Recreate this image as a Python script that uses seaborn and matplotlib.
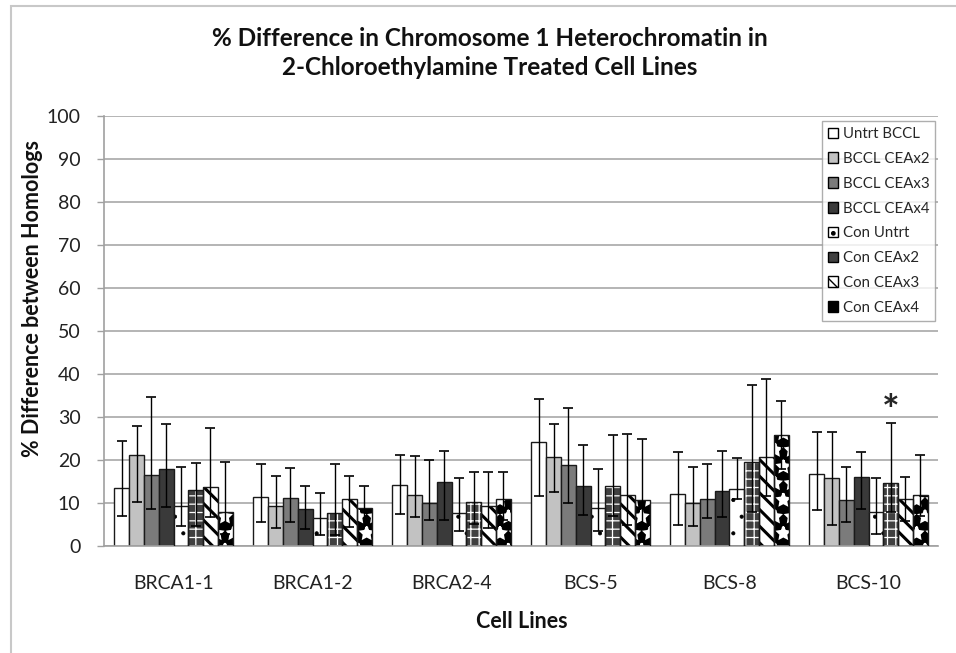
import matplotlib
matplotlib.use('Agg')
import matplotlib.pyplot as plt
from matplotlib.patches import Patch, Rectangle
import pandas as pd
import seaborn as sns

# Data
cell_lines = ['BRCA1-1', 'BRCA1-2', 'BRCA2-4', 'BCS-5', 'BCS-8', 'BCS-10']
groups = ['Untrt BCCL', 'BCCL CEAx2', 'BCCL CEAx3', 'BCCL CEAx4',
          'Con Untrt', 'Con CEAx2', 'Con CEAx3', 'Con CEAx4']

# bar heights per cell line (one value per group, in group order)
brca1_1 = [13.6, 21.2, 16.5, 17.9, 9.4, 13.0, 13.8, 7.9]
brca1_2 = [11.3, 9.4, 11.2, 8.7, 6.6, 7.6, 10.9, 8.9]
brca2_4 = [14.2, 11.9, 9.9, 15.0, 7.6, 10.2, 9.3, 11.0]
bcs_5 = [24.2, 20.7, 18.8, 14.0, 8.8, 13.9, 11.9, 10.6]
bcs_8 = [12.2, 10.1, 11.0, 12.8, 13.3, 19.6, 20.6, 25.8]
bcs_10 = [16.8, 15.7, 10.8, 16.0, 7.8, 14.6, 10.9, 11.9]

# upper error amounts
brca1_1_up = [10.8, 6.8, 18.2, 10.5, 9.0, 6.4, 13.6, 11.6]
brca1_2_up = [7.8, 6.8, 6.9, 5.2, 5.8, 11.5, 5.3, 5.1]
brca2_4_up = [7.0, 9.0, 10.2, 7.2, 8.1, 6.9, 7.9, 6.2]
bcs_5_up = [10.1, 7.7, 13.4, 9.4, 9.2, 11.8, 14.1, 14.4]
bcs_8_up = [9.6, 8.2, 8.1, 9.4, 7.2, 17.9, 18.2, 7.9]
bcs_10_up = [9.8, 10.7, 7.6, 5.9, 8.1, 14.1, 5.2, 9.3]

# lower error amounts
brca1_1_dn = [6.6, 11.0, 8.0, 8.8, 4.7, 8.3, 7.0, 5.0]
brca1_2_dn = [5.8, 5.1, 5.7, 4.7, 4.0, 5.0, 6.4, 4.0]
brca2_4_dn = [6.8, 5.2, 3.9, 9.0, 4.0, 5.0, 5.0, 5.0]
bcs_5_dn = [12.6, 8.1, 8.7, 6.8, 5.4, 7.0, 7.0, 6.0]
bcs_8_dn = [7.2, 5.5, 4.6, 6.1, 2.4, 11.7, 9.0, 8.0]
bcs_10_dn = [8.4, 10.7, 5.2, 7.3, 5.1, 6.7, 5.0, 5.0]

star_group = ('BCS-10', 'Con CEAx2')
star_level = 31

values = [brca1_1, brca1_2, brca2_4, bcs_5, bcs_8, bcs_10]
ups = [brca1_1_up, brca1_2_up, brca2_4_up, bcs_5_up, bcs_8_up, bcs_10_up]
dns = [brca1_1_dn, brca1_2_dn, brca2_4_dn, bcs_5_dn, bcs_8_dn, bcs_10_dn]

rows = []
for cl, v, u, d in zip(cell_lines, values, ups, dns):
    for g, vv, uu, dd in zip(groups, v, u, d):
        rows.append({'Cell Lines': cl, 'Group': g, 'Value': vv, 'Up': uu, 'Down': dd})
df = pd.DataFrame(rows)

# styling: face colour, hatch, hatch colour, hatch width
faces = ['white', '#c2c2c2', '#7b7b7b', '#3a3a3a', 'white', '#404040', 'white', 'black']
hatches = ['', '', '', '', '.', '++', '\\\\', '*']
hatch_cols = [None, None, None, None, 'black', 'white', 'black', 'white']
hatch_lws = [1, 1, 1, 1, 0.5, 0.9, 2.2, 1.8]

sns.set_style('white')
plt.rcParams['font.family'] = ['Lato', 'DejaVu Sans']

fig = plt.figure(figsize=(9.56, 6.53), dpi=100)
ax = fig.add_axes([104 / 956, 107 / 653, 834 / 956, 430 / 653])

sns.barplot(data=df, x='Cell Lines', y='Value', hue='Group', order=cell_lines,
            hue_order=groups, palette=faces, saturation=1, width=0.85,
            errorbar=None, edgecolor='#1a1a1a', linewidth=1, legend=False, ax=ax)

bar_conts = list(ax.containers)
for i, cont in enumerate(bar_conts):
    sub = df[df.Group == groups[i]].set_index('Cell Lines').loc[cell_lines]
    xs = []
    for bar in cont:
        xs.append(bar.get_x() + bar.get_width() / 2)
        if hatches[i]:
            bar.set_hatch(hatches[i])
            bar.set_edgecolor(hatch_cols[i])
            bar.set_linewidth(0)
            if hasattr(bar, 'set_hatch_linewidth'):
                bar.set_hatch_linewidth(hatch_lws[i])
            ax.add_patch(Rectangle(bar.get_xy(), bar.get_width(), bar.get_height(),
                                   fill=False, edgecolor='#1a1a1a', linewidth=1, zorder=3))
    ax.errorbar(xs, sub.Value, yerr=[sub.Down, sub.Up], fmt='none', ecolor='black',
                elinewidth=1, capsize=3.5, capthick=1.2, zorder=5)
    if groups[i] == star_group[1]:
        xi = xs[cell_lines.index(star_group[0])]
        ax.text(xi, star_level, '*', ha='center', va='center', fontsize=30,
                fontweight='bold', zorder=6)

ax.set_ylim(0, 100)
ax.set_xlim(-0.5, len(cell_lines) - 0.5)
ax.set_yticks(range(0, 101, 10))
ax.yaxis.grid(True, color='#a8a8a8', linewidth=1.2)
ax.set_axisbelow(True)
ax.set_xticks(range(len(cell_lines)))
ax.set_xticklabels(cell_lines)
ax.set_xticks([x - 0.5 for x in range(len(cell_lines) + 1)], minor=True)
ax.tick_params(axis='x', which='major', length=0, pad=21, labelsize=14, colors='#222222')
ax.tick_params(axis='x', which='minor', length=6, width=1, color='#a0a0a0', direction='out')
ax.tick_params(axis='y', length=5, width=1, color='#a0a0a0', direction='out', pad=12,
               labelsize=14, labelcolor='#222222', left=True)
ax.set_xlabel('')
ax.set_ylabel('')
for s in ['top', 'right']:
    ax.spines[s].set_visible(False)
for s in ['left', 'bottom']:
    ax.spines[s].set_color('#a0a0a0')
    ax.spines[s].set_linewidth(1.2)

# legend
handles = []
for i, g in enumerate(groups):
    h = hatches[i] if hatch_cols[i] == 'black' else ''
    handles.append(Patch(facecolor=faces[i], edgecolor='black', hatch=h, linewidth=1, label=g))
leg = ax.legend(handles=handles, loc='upper right', bbox_to_anchor=(0.997, 0.988),
                fontsize=10.8, frameon=True, fancybox=False, edgecolor='#9a9a9a',
                handlelength=0.7, handleheight=0.7, handletextpad=0.3,
                labelspacing=0.72, borderpad=0.4, borderaxespad=0)
leg.get_frame().set_linewidth(1)

fig.text(490 / 956, 1 - 53 / 653,
         '% Difference in Chromosome 1 Heterochromatin in\n2-Chloroethylamine Treated Cell Lines',
         ha='center', va='center', fontsize=17.5, fontweight='bold', linespacing=1.3,
         color='#111111')
fig.text(33 / 956, 1 - 298 / 653, '% Difference between Homologs', rotation=90,
         ha='center', va='center', fontsize=15.5, fontweight='bold', color='#111111')
fig.text(522 / 956, 1 - 622 / 653, 'Cell Lines', ha='center', va='center',
         fontsize=15.5, fontweight='bold', color='#111111')

fig.add_artist(Rectangle((11 / 956, -0.1), 2, 1.1 - 6 / 653,
                         transform=fig.transFigure, fill=False,
                         edgecolor='#c8c8c8', linewidth=1.5))

fig.savefig('out.png', dpi=100)
